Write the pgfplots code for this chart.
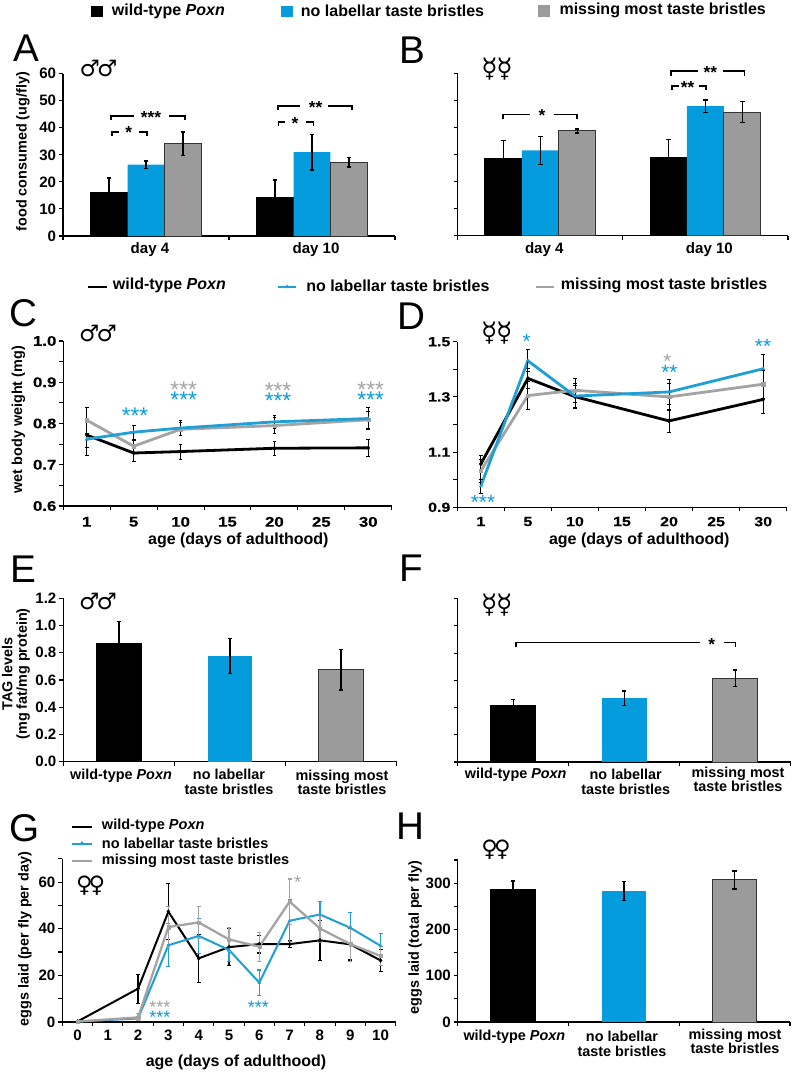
\documentclass[border=0pt]{standalone}
\usepackage{fontspec}
\usepackage{pgfplots}
\pgfplotsset{compat=1.18}
\setmainfont{Liberation Sans}
\newfontfamily\widefont[FakeStretch=1.2,FakeBold=0.3]{Liberation Sans}
\newfontfamily\symfont{DejaVu Sans}
\definecolor{cblue}{HTML}{059CDE}
\definecolor{cgray}{HTML}{9B9B9B}
\definecolor{lblue}{HTML}{1EA0D6}
\definecolor{lgray}{HTML}{A3A3A3}
\newcommand\fs[1]{\fontsize{#1}{#1}\selectfont}
\tikzset{
  lk/.style={black,line width=#1,mark=diamond*,mark size=1.6pt,mark options={solid,fill=black,line width=.2pt}},
  ll/.style={lblue,line width=#1,mark=triangle*,mark size=1.4pt,mark options={solid,fill=lblue,line width=.2pt}},
  lg/.style={lgray,line width=#1,mark=square*,mark size=1.2pt,mark options={solid,fill=lgray,line width=.2pt}},
}
\pgfplotsset{
  panel/.style n args={4}{at={(#1*0.75pt,-#3*0.75pt)},anchor=south west,scale only axis,
    width={(#2-#1)*0.75pt},height={(#3-#4)*0.75pt}},
  base/.style={axis lines=left,axis line style={-,line width=.9pt},clip=false,
    tick style={black,line width=.8pt},major tick length=3pt,minor tick length=3pt,tick align=outside,
    /pgf/number format/assume math mode=true,
    every tick label/.append style={font=\bfseries\fs{11.3}},
    xticklabel style={inner sep=1pt},
    yticklabel style={inner sep=2pt},
    xticklabels={,,,,,,,,,,,,},scaled y ticks=false},
  dec/.style={yticklabel style={/pgf/number format/fixed,/pgf/number format/fixed zerofill,/pgf/number format/precision=1}},
  ylab/.style n args={3}{ylabel={#3},every axis y label/.style={at={(axis description cs:#1,#2)},rotate=90,anchor=center,align=center,font=\bfseries\fs{10.8}}},
  xlab/.style n args={2}{xlabel={age (days of adulthood)},every axis x label/.style={at={(axis description cs:#1,#2)},anchor=center,font=\bfseries\fs{12}}},
  ebar/.style n args={3}{error bars/y dir=both,error bars/y explicit,
    error bars/error bar style={line width=#2,color=#1,solid},
    error bars/error mark options={rotate=90,mark size=#3,line width=#2,color=#1,solid}},
  bk/.style={fill=black,draw=black,line width=.6pt,ebar={black}{1pt}{1.7pt}},
  bl/.style={fill=cblue,draw=none,ebar={black}{1pt}{1.7pt}},
  gr/.style={fill=cgray,draw=black!80,line width=.7pt,ebar={black}{1pt}{1.7pt}},
}
\begin{document}
\begin{tikzpicture}
\useasboundingbox (0,0) rectangle (597pt,-804pt);

% A
\begin{axis}[panel={63}{395}{236}{73.7},base,ybar=0pt,bar width=27.7pt,xmin=-0.5,xmax=1.5,ymin=0,ymax=60,
  ytick={0,10,...,60},xtick={-0.5,0.5,1.5},extra x ticks={0,1},extra x tick labels={day 4,day 10},
  extra x tick style={major tick length=0pt,xticklabel style={xshift=3pt,yshift=-4pt}},
  ylab={-0.121}{0.52}{food consumed (ug/fly)}]
\addplot[bk] coordinates {(0,16.1) +- (0,5.3) (1,14.3) +- (0,6.4)};
\addplot[bl] coordinates {(0,26.4) +- (0,1.35) (1,31) +- (0,6.65)};
\addplot[gr] coordinates {(0,34.1) +- (0,4.3) (1,27.3) +- (0,1.75)};
\end{axis}

% B
\begin{axis}[panel={457.7}{788}{235.7}{73.3},base,ybar=0pt,bar width=27.7pt,xmin=-0.5,xmax=1.5,ymin=0,ymax=60,
  ytick={0,10,...,60},yticklabels={},xtick={-0.5,0.5,1.5},extra x ticks={0,1},extra x tick labels={day 4,day 10},
  extra x tick style={major tick length=0pt,xticklabel style={xshift=3pt,yshift=-4pt}}]
\addplot[bk] coordinates {(0,28.7) +- (0,6.4) (1,28.9) +- (0,6.6)};
\addplot[bl] coordinates {(0,31.5) +- (0,5.2) (1,47.9) +- (0,2.3)};
\addplot[gr] coordinates {(0,38.7) +- (0,0.7) (1,45.7) +- (0,3.9)};
\end{axis}

% C
\begin{axis}[panel={63.3}{391.7}{506}{341},base,dec,xmin=-0.5,xmax=6.5,ymin=0.6,ymax=1.0,
  ytick={0.6,0.7,...,1.0},minor y tick num=1,xtick={-0.5,0.5,...,6.5},
  extra x ticks={0,...,6},extra x tick labels={1,5,10,15,20,25,30},
  extra x tick style={major tick length=0pt,xticklabel style={yshift=-7pt}},
  every tick label/.append style={font=\widefont\bfseries\fs{10.5}},
  ylab={-0.137}{0.523}{wet body weight (mg)},xlab={0.533}{-0.206}]
\addplot[lk=2.1pt,ebar={black}{.6pt}{1.4pt}] coordinates {(0,0.772) +- (0,0.03) (1,0.7285) +- (0,0.021) (2,0.732) +- (0,0.018) (4,0.74) +- (0,0.017) (6,0.741) +- (0,0.02)};
\addplot[lg=2.1pt,ebar={black}{.6pt}{1.4pt}] coordinates {(0,0.808) +- (0,0.031) (1,0.745) +- (0,0.015) (2,0.786) +- (0,0.016) (4,0.795) +- (0,0.02) (6,0.809) +- (0,0.02)};
\addplot[ll=2.1pt,ebar={black}{.6pt}{1.4pt}] coordinates {(0,0.762) +- (0,0.04) (1,0.779) +- (0,0.017) (2,0.789) +- (0,0.018) (4,0.804) +- (0,0.015) (6,0.812) +- (0,0.027)};
\end{axis}

% D
\begin{axis}[panel={457.3}{786.7}{507.3}{341.7},base,dec,xmin=-0.5,xmax=6.5,ymin=0.9,ymax=1.5,
  ytick={0.9,1.1,1.3,1.5},minor y tick num=1,xtick={-0.5,0.5,...,6.5},
  extra x ticks={0,...,6},extra x tick labels={1,5,10,15,20,25,30},
  extra x tick style={major tick length=0pt,xticklabel style={yshift=-6pt}},
  every tick label/.append style={font=\widefont\bfseries\fs{10}},
  xlab={0.5525}{-0.197}]
\addplot[lk=2.1pt,ebar={black}{.6pt}{1.4pt}] coordinates {(0,1.057) +- (0,0.03) (1,1.367) +- (0,0.035) (2,1.301) +- (0,0.04) (4,1.213) +- (0,0.041) (6,1.291) +- (0,0.05)};
\addplot[lg=2.1pt,ebar={black}{.6pt}{1.4pt}] coordinates {(0,1.032) +- (0,0.04) (1,1.305) +- (0,0.05) (2,1.324) +- (0,0.043) (4,1.3) +- (0,0.05) (6,1.346) +- (0,0.05)};
\addplot[ll=2.1pt,ebar={black}{.6pt}{1.4pt}] coordinates {(0,0.977) +- (0,0.025) (1,1.431) +- (0,0.04) (2,1.303) +- (0,0.045) (4,1.318) +- (0,0.046) (6,1.402) +- (0,0.053)};
\end{axis}

% E
\begin{axis}[panel={63.3}{396.7}{761.7}{598.3},base,dec,ybar,bar width=33.5pt,xmin=-0.5,xmax=2.5,ymin=0,ymax=1.2,
  ytick={0,0.2,...,1.2},xtick={-0.5,0.5,1.5,2.5},
  ylab={-0.142}{0.537}{TAG levels\\(mg fat/mg protein)}]
\addplot[bk,bar shift=0pt] coordinates {(0,0.872) +- (0,0.157)};
\addplot[bl,bar shift=0pt] coordinates {(1,0.776) +- (0,0.13)};
\addplot[gr,bar shift=0pt] coordinates {(2,0.676) +- (0,0.15)};
\end{axis}

% F
\begin{axis}[panel={457.7}{790.7}{762}{598.7},base,ybar,bar width=33.5pt,xmin=-0.5,xmax=2.5,ymin=0,ymax=1.2,
  ytick={0,0.2,...,1.2},yticklabels={},xtick={-0.5,0.5,1.5,2.5}]
\addplot[bk,bar shift=0pt] coordinates {(0,0.414) +- (0,0.046)};
\addplot[bl,bar shift=0pt] coordinates {(1,0.468) +- (0,0.055)};
\addplot[gr,bar shift=0pt] coordinates {(2,0.617) +- (0,0.06)};
\end{axis}

% G
\begin{axis}[panel={62.3}{395.7}{1022}{858.7},base,xmin=-0.5,xmax=10.5,ymin=0,ymax=70,
  ytick={0,20,40,60},minor ytick={10,30,50,70},xtick={-0.5,0.5,...,10.5},
  extra x ticks={0,...,10},extra x tick labels={0,1,2,3,4,5,6,7,8,9,10},
  extra x tick style={major tick length=0pt,xticklabel style={yshift=-5pt}},
  ylab={-0.112}{0.508}{eggs laid (per fly per day)},xlab={0.521}{-0.245}]
\addplot[lk=1.5pt,ebar={black}{.9pt}{1.5pt}] coordinates {(0,0.2) (2,14.3) +- (0,6.2) (3,47.3) +- (0,12) (4,27.3) +- (0,10.3) (5,32.1) +- (0,8) (6,33.4) +- (0,3.8) (7,33.4) +- (0,1.3) (8,35) +- (0,8.5) (9,33.3) +- (0,6.7) (10,26.4) +- (0,4.7)};
\addplot[ll=1.5pt,ebar={lblue}{.9pt}{1.5pt}] coordinates {(0,0.2) (2,1.5) +- (0,0.8) (3,32.9) +- (0,9.2) (4,36.9) +- (0,7.4) (5,30.9) +- (0,5) (6,16.9) +- (0,5.4) (7,43.4) +- (0,9) (8,46.1) +- (0,5.5) (9,40.4) +- (0,6.7) (10,32.7) +- (0,5.2)};
\addplot[lg=1.7pt,ebar={lgray}{.9pt}{1.5pt}] coordinates {(0,0.2) (2,2) +- (0,1.5) (3,40.7) +- (0,8.7) (4,42.7) +- (0,6.7) (5,35.4) +- (0,5) (6,32.3) +- (0,6.2) (7,51.6) +- (0,9.7) (8,40.1) +- (0,6) (9,33.4) +- (0,7.4) (10,28.3) +- (0,4)};
\end{axis}

% H
\begin{axis}[panel={457.7}{790}{1022}{860},base,ybar,bar width=33.5pt,xmin=-0.5,xmax=2.5,ymin=0,ymax=350,
  ytick={0,100,200,300},minor ytick={50,150,250,350},xtick={-0.5,0.5,1.5,2.5},
  ylab={-0.128}{0.52}{eggs laid (total per fly)}]
\addplot[bk,bar shift=0pt] coordinates {(0,286) +- (0,19)};
\addplot[bl,bar shift=0pt] coordinates {(1,283) +- (0,20)};
\addplot[gr,bar shift=0pt] coordinates {(2,307) +- (0,19.5)};
\end{axis}

% annotations, in reference pixels
\begin{scope}[x=.75pt,y=-.75pt,font=\bfseries\fs{9.8}]
\tikzset{
  L/.style={anchor=base west,inner sep=0pt,font=\fs{29}},
  S/.style={anchor=center,inner sep=0pt,font=\symfont\fs{17}},
  M/.style={anchor=center,inner sep=0pt,font=\symfont\fs{20}},
  T/.style={anchor=west,inner sep=0pt,font=\bfseries\fs{12}},
  T2/.style={anchor=west,inner sep=0pt,font=\bfseries\fs{10.9}},
  C/.style={anchor=center,inner sep=0pt,align=center,font=\bfseries\fs{10.8}},
  K/.style={anchor=north,inner sep=0pt,font=\bfseries\fs{13}},
  Z/.style n args={2}{anchor=north,inner sep=0pt,text=#1,font=\fs{#2}},
}
% panel letters
\node[L] at (13,61) {A};
\node[L] at (399,63) {B};
\node[L] at (9,326.5) {C};
\node[L] at (397,329) {D};
\node[L] at (10,582) {E};
\node[L] at (399,581) {F};
\node[L] at (9,841) {G};
\node[L] at (396,839) {H};
% sexes
\node[S] at (98.5,68) {♂\kern-2pt♂};
\node[M] at (497,69) {☿\kern-1pt☿};
\node[S] at (98,333) {♂\kern-2pt♂};
\node[M] at (496.7,332.7) {☿\kern-1pt☿};
\node[S] at (98,601) {♂\kern-2pt♂};
\node[M] at (496.7,605) {☿\kern-1pt☿};
\node[S] at (90.7,886) {♀\kern-3pt♀};
\node[S] at (496,849.3) {♀\kern-3pt♀};
% top legend
\fill[black] (91,6) rectangle (103,17);
\node[T] at (111.7,11.5) {wild-type \textit{Poxn}};
\fill[cblue] (281,5.5) rectangle (293,17);
\node[T] at (300.7,11) {no labellar taste bristles};
\fill[cgray] (538,5) rectangle (549.5,17);
\node[T] at (559.3,10.5) {missing most taste bristles};
% second legend
\draw[black,line width=1.8pt] (87.7,287)--(106.7,287);
\node[T] at (112.7,285.7) {wild-type \textit{Poxn}};
\draw[lblue,line width=1.6pt] (278,287)--(296,287);
\fill[lblue] (287,284.5)--(289.5,288)--(284.5,288)--cycle;
\node[T] at (306,285.7) {no labellar taste bristles};
\draw[lgray,line width=2pt] (535.7,287)--(554.3,287);
\node[T] at (560.7,285.7) {missing most taste bristles};
% G legend
\draw[black,line width=1.5pt] (72.3,826.7)--(91.7,826.7);
\node[T2] at (101.7,825.7) {wild-type \textit{Poxn}};
\draw[lblue,line width=1.5pt] (72.3,843.5)--(91.7,843.5);
\fill[lblue] (82,841)--(84.5,844.5)--(79.5,844.5)--cycle;
\node[T2] at (101.7,843) {no labellar taste bristles};
\draw[lgray,line width=1.8pt] (72.3,860.7)--(91.7,860.7);
\node[T2] at (101.7,860.7) {missing most taste bristles};
% category names
\node[C] at (121,775.5) {wild-type \textit{Poxn}};
\node[C] at (229,782) {no labellar\\taste bristles};
\node[C] at (342,782.5) {missing most\\taste bristles};
\node[C] at (515.7,775) {wild-type \textit{Poxn}};
\node[C] at (625.7,782) {no labellar\\taste bristles};
\node[C] at (738,779.5) {missing most\\taste bristles};
\node[C] at (514.3,1036.5) {wild-type \textit{Poxn}};
\node[C] at (622,1044) {no labellar\\taste bristles};
\node[C] at (735,1041.5) {missing most\\taste bristles};
% brackets
\tikzset{B/.style={line width=1.2pt,black}}
\draw[B] (110.7,120)--(110.7,115.7)--(134,115.7) (169,115.7)--(185,115.7)--(185,120);
\node[K] at (151,111.5) {***};
\draw[B] (111.7,136)--(111.7,131.7)--(119,131.7) (139,131.7)--(146.7,131.7)--(146.7,136);
\node[K] at (128.7,126.5) {*};
\draw[B] (277.7,110)--(277.7,105.7)--(300,105.7) (328,105.7)--(351.7,105.7)--(351.7,110);
\node[K] at (315.7,101) {**};
\draw[B] (278.3,126)--(278.3,121.7)--(285,121.7) (306,121.7)--(313.3,121.7)--(313.3,126);
\node[K] at (295,117) {*};
\draw[B] (502.7,119)--(502.7,114.3)--(530,114.3) (554,114.3)--(576.7,114.3)--(576.7,119);
\node[K] at (542,109.5) {*};
\draw[B] (670.7,75.5)--(670.7,71)--(697.5,71) (722.5,71)--(744.3,71)--(744.3,75.5);
\node[K] at (710.3,66.5) {**};
\draw[B] (671.7,90)--(671.7,85.7)--(678.5,85.7) (698.5,85.7)--(706,85.7)--(706,90);
\node[K] at (687.7,81) {**};
\draw[B] (516,647)--(516,642.3)--(700,642.3) (724,642.3)--(735.3,642.3)--(735.3,647);
\node[K] at (711.7,638) {*};
% coloured stars
\node[Z={cblue}{17}] at (135,408) {***};
\node[Z={lgray}{17}] at (183.7,382) {***};
\node[Z={cblue}{17}] at (183.7,392) {***};
\node[Z={lgray}{17}] at (278,383) {***};
\node[Z={cblue}{17}] at (278,393) {***};
\node[Z={lgray}{17}] at (370.7,381.5) {***};
\node[Z={cblue}{17}] at (370.7,391.5) {***};
\node[Z={cblue}{15.5}] at (526.7,334) {*};
\node[Z={lgray}{15.5}] at (667.3,354.5) {*};
\node[Z={cblue}{15.5}] at (669.3,365) {**};
\node[Z={cblue}{15.5}] at (763,339) {**};
\node[Z={cblue}{15.5}] at (483,495) {***};
\node[Z={lgray}{13.5}] at (160,1000.5) {***};
\node[Z={cblue}{13.5}] at (160,1011) {***};
\node[Z={cblue}{13.5}] at (258.3,1001) {***};
\node[Z={lgray}{13.5}] at (297.7,875.5) {*};
\end{scope}
\end{tikzpicture}
\end{document}
